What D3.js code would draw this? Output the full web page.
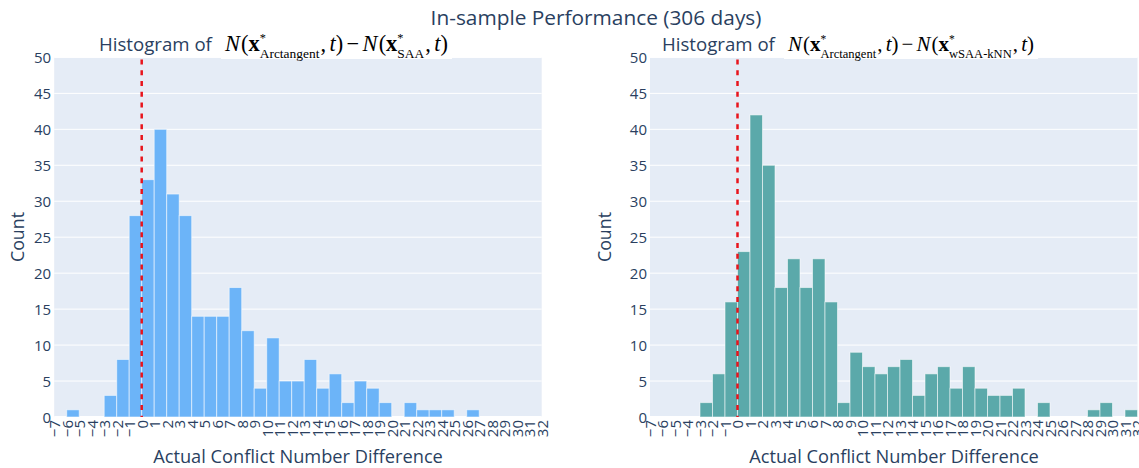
<!DOCTYPE html>
<html><head><meta charset="utf-8">
<script src="https://cdn.jsdelivr.net/npm/d3@7"></script>
<style>body{margin:0;background:#fff} svg{display:block}</style>
</head><body><svg id="c" width="1139" height="468"></svg>
<script>
// ---- data ----
const xTickValues = [-7,-6,-5,-4,-3,-2,-1,0,1,2,3,4,5,6,7,8,9,10,11,12,13,14,15,16,17,18,19,20,21,22,23,24,25,26,27,28,29,30,31,32];
const binStarts   = [-7,-6,-5,-4,-3,-2,-1,0,1,2,3,4,5,6,7,8,9,10,11,12,13,14,15,16,17,18,19,20,21,22,23,24,25,26,27,28,29,30,31];
const countsSAA   = [0,1,0,0,3,8,28,33,40,31,28,14,14,14,18,12,4,11,5,5,8,4,6,2,5,4,2,0,2,1,1,1,0,1,0,0,0,0,0];
const countsKNN   = [0,0,0,0,2,6,16,23,42,35,18,22,18,22,16,2,9,7,6,7,8,3,6,7,4,7,4,3,3,4,0,2,0,0,0,1,2,0,1];
const yTickValues = [0,5,10,15,20,25,30,35,40,45,50];
const mainTitle = "In-sample Performance (306 days)";
const xTitle = "Actual Conflict Number Difference";
const yTitle = "Count";
const histPrefix = "Histogram of";
const subLabels = ["SAA", "wSAA-kNN"];

// ---- drawing ----
const svg = d3.select("#c");
const FONT = "'Open Sans', sans-serif";
const TXT = "#2a3f5f";
const yTop = 57.4, yBot = 417;

function fit(sel, target) {
  const w = sel.node().getComputedTextLength();
  const fs = parseFloat(sel.attr("font-size"));
  sel.attr("font-size", fs * target / w);
  return sel;
}

const panels = [
  {x0: 54.2, x1: 541.7, counts: countsSAA, color: "#6cb4f8", xTitleC: 298, yTitleX: 18,
   histX: 99, mathX: 225, mathW: 223, sub: subLabels[0]},
  {x0: 650, x1: 1137.5, counts: countsKNN, color: "#5ba9aa", xTitleC: 894, yTitleX: 605,
   histX: 662, mathX: 788, mathW: 246, sub: subLabels[1]}
];

const y = d3.scaleLinear().domain([0, 50]).range([yBot, yTop]);

fit(svg.append("text").attr("x", 596).attr("y", 25).attr("text-anchor", "middle")
  .attr("font-family", FONT).attr("font-size", 20).attr("fill", TXT).text(mainTitle), 331);

panels.forEach(p => {
  const x = d3.scaleLinear().domain([xTickValues[0], xTickValues[xTickValues.length-1]]).range([p.x0, p.x1]);
  const g = svg.append("g");
  g.append("rect").attr("x", p.x0).attr("y", yTop).attr("width", p.x1 - p.x0).attr("height", yBot - yTop).attr("fill", "#E5ECF6");
  g.selectAll("line.grid").data(yTickValues.filter(v => v > 0)).join("line")
    .attr("x1", p.x0).attr("x2", p.x1).attr("y1", d => y(d)).attr("y2", d => y(d))
    .attr("stroke", "#fff").attr("stroke-width", 1);
  g.append("line").attr("x1", p.x0).attr("x2", p.x1).attr("y1", y(0)).attr("y2", y(0))
    .attr("stroke", "#fff").attr("stroke-width", 2);

  g.selectAll("rect.bar").data(binStarts.map((b, i) => ({b, c: p.counts[i]})).filter(d => d.c > 0)).join("rect")
    .attr("class", "bar")
    .attr("x", d => x(d.b)).attr("width", d => x(d.b + 1) - x(d.b))
    .attr("y", d => y(d.c)).attr("height", d => y(0) - y(d.c))
    .attr("fill", p.color).attr("stroke", "rgba(255,255,255,0.55)").attr("stroke-width", 1);

  g.append("line").attr("x1", x(0)).attr("x2", x(0)).attr("y1", yTop + 2).attr("y2", yBot)
    .attr("stroke", "#e8141c").attr("stroke-width", 2.5).attr("stroke-dasharray", "5,5.8");

  // y axis
  const ya = g.append("g").attr("transform", `translate(${p.x0 - 1},0)`)
    .call(d3.axisLeft(y).tickValues(yTickValues).tickSize(0).tickPadding(2));
  ya.select(".domain").remove();
  ya.selectAll("text").attr("fill", TXT).attr("font-family", FONT).attr("font-size", 15).attr("dy", "0.36em");

  // x axis
  const xa = g.append("g").attr("transform", `translate(0,${yBot})`)
    .call(d3.axisBottom(x).tickValues(xTickValues).tickSize(0)
      .tickFormat(d => d < 0 ? "\u2212" + Math.abs(d) : String(d)));
  xa.select(".domain").remove();
  xa.selectAll("text").attr("fill", TXT).attr("font-family", FONT).attr("font-size", 15)
    .attr("transform", "rotate(-90)").attr("y", 0).attr("x", -3).attr("dy", "0.36em")
    .attr("text-anchor", "end");

  // axis titles
  fit(svg.append("text").attr("x", p.xTitleC).attr("y", 463).attr("text-anchor", "middle")
    .attr("font-family", FONT).attr("font-size", 17).attr("fill", TXT).text(xTitle), 290);
  fit(svg.append("text").attr("transform", `translate(${p.yTitleX},237) rotate(-90)`)
    .attr("text-anchor", "middle").attr("dy", "0.35em")
    .attr("font-family", FONT).attr("font-size", 17).attr("fill", TXT).text(yTitle), 50);

  // subplot title
  fit(svg.append("text").attr("x", p.histX).attr("y", 50.5)
    .attr("font-family", FONT).attr("font-size", 17).attr("fill", TXT).text(histPrefix), 113);

  svg.append("rect").attr("x", p.mathX - 4).attr("y", 35).attr("width", p.mathW + 8).attr("height", 24).attr("fill", "#fff");
  drawMath(p.mathX, 50.5, p.sub, p.mathW);
});

function drawMath(x0, base, sub, targetW) {
  const g = svg.append("g");
  const MF = "'Liberation Serif', 'Times New Roman', serif";
  const fs = 20;
  let cx = 0;
  function piece(t, opts = {}) {
    const el = g.append("text").attr("x", cx).attr("y", opts.dy || 0)
      .attr("font-family", MF).attr("font-size", opts.size || fs).attr("fill", "#000")
      .attr("font-style", opts.italic ? "italic" : "normal")
      .attr("font-weight", opts.bold ? "bold" : "normal")
      .style("white-space", "pre").text(t);
    return el.node().getComputedTextLength();
  }
  function adv(t, o) { cx += piece(t, o) + (o && o.pad || 0); }
  function supsub(sp, sb) {
    const w1 = piece(sp, {size: fs * 0.55, dy: -fs * 0.38});
    const w2 = piece(sb, {size: fs * 0.6, dy: fs * 0.34});
    cx += Math.max(w1, w2) + 1;
  }
  const expr = (s) => {
    adv("N", {italic: true, pad: 1}); adv("("); adv("x", {bold: true});
    supsub("*", s); adv(",", {pad: 3}); adv("t", {italic: true}); adv(")");
  };
  expr("Arctangent");
  cx += 3; adv("\u2212"); cx += 3;
  expr(sub);
  const s = targetW / cx;
  g.attr("transform", `translate(${x0},${base}) scale(${s})`);
}
</script>
</body></html>
